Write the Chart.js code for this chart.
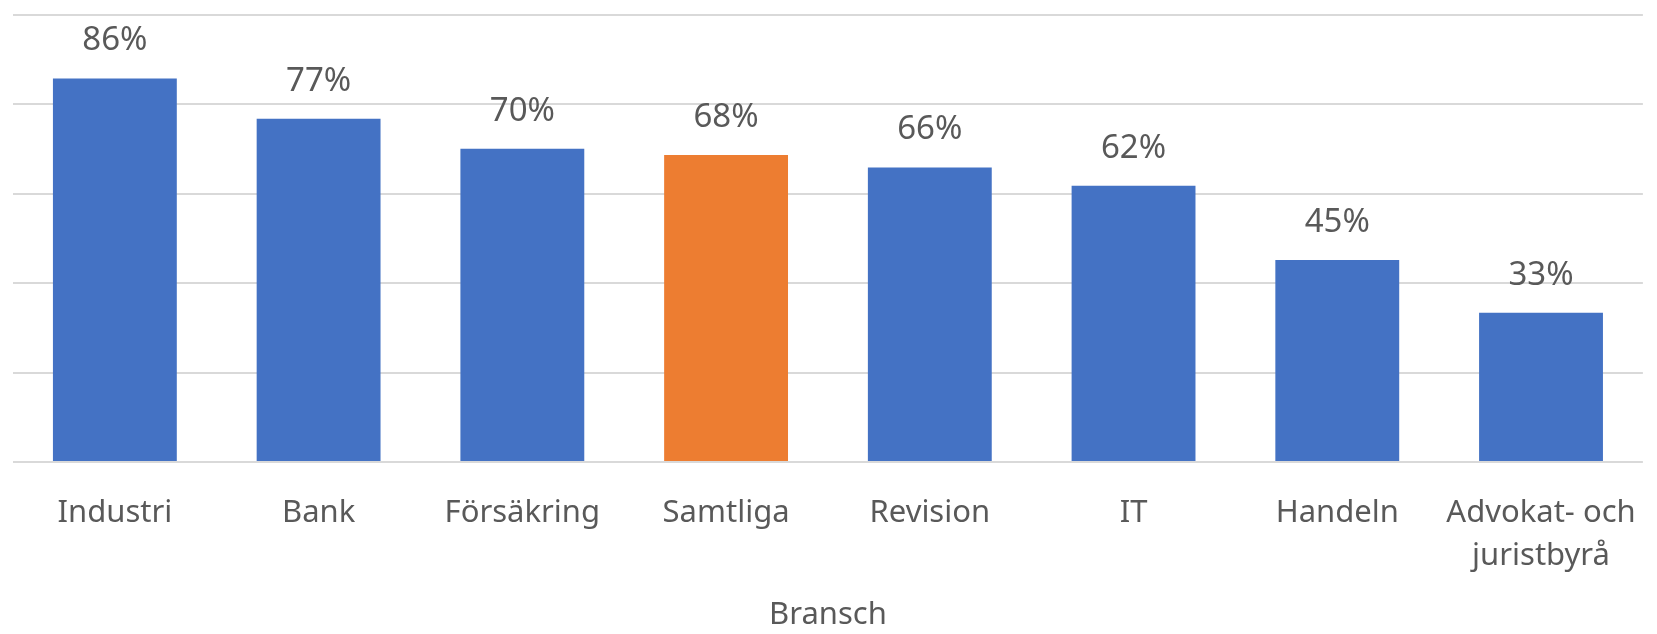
<!DOCTYPE html>
<html>
<head>
<meta charset="utf-8">
<script src="https://cdn.jsdelivr.net/npm/chart.js@4"></script>
<style>
  html, body { margin: 0; padding: 0; background: #fff; }
  #wrap { width: 1657px; height: 634px; }
</style>
</head>
<body>
<div id="wrap"><canvas id="branschChart"></canvas></div>
<script>
const categories = ['Industri', 'Bank', 'Försäkring', 'Samtliga', 'Revision', 'IT', 'Handeln', ['Advokat- och', 'juristbyrå']];
const shares = [85.8, 76.8, 70.1, 68.7, 65.9, 61.8, 45.2, 33.4];
const shareLabels = ['86%', '77%', '70%', '68%', '66%', '62%', '45%', '33%'];
const barColors = ['#4472C4', '#4472C4', '#4472C4', '#ED7D31', '#4472C4', '#4472C4', '#4472C4', '#4472C4'];
const yTicks = [0, 20, 40, 60, 80, 100];

const fontFamily = '"Noto Sans", "Open Sans", sans-serif';
const textColor = '#595959';

// draws the "86%" labels above each bar
const valueLabels = {
    id: 'valueLabels',
    afterDatasetsDraw(chart) {
        const c = chart.ctx;
        const meta = chart.getDatasetMeta(0);
        c.save();
        c.font = '33px ' + fontFamily;
        c.fillStyle = textColor;
        c.textAlign = 'center';
        c.textBaseline = 'alphabetic';
        meta.data.forEach((bar, i) => {
            c.fillText(shareLabels[i], bar.x, bar.y - 28);
        });
        c.restore();
    }
};

const ctx = document.getElementById('branschChart').getContext('2d');
new Chart(ctx, {
    type: 'bar',
    data: {
        labels: categories,
        datasets: [{
            data: shares,
            backgroundColor: barColors,
            barPercentage: 0.608,
            categoryPercentage: 1.0
        }]
    },
    options: {
        responsive: true,
        maintainAspectRatio: false,
        animation: false,
        layout: { padding: { left: 13, right: 5, top: 15, bottom: 0 } },
        plugins: {
            legend: { display: false },
            tooltip: { enabled: false }
        },
        scales: {
            y: {
                min: 0,
                max: 100,
                afterBuildTicks: (axis) => { axis.ticks = yTicks.map(v => ({ value: v })); },
                ticks: { display: false },
                grid: { color: '#D9D9D9', lineWidth: 2, drawTicks: false },
                border: { display: false }
            },
            x: {
                grid: { display: false },
                border: { display: false },
                ticks: {
                    color: textColor,
                    font: { family: fontFamily, size: 31, lineHeight: 1.4 },
                    padding: 21,
                    maxRotation: 0,
                    autoSkip: false
                },
                title: {
                    display: true,
                    text: 'Bransch',
                    color: textColor,
                    font: { family: fontFamily, size: 31 },
                    padding: { top: -2, bottom: 0 }
                }
            }
        }
    },
    plugins: [valueLabels]
});
</script>
</body>
</html>
